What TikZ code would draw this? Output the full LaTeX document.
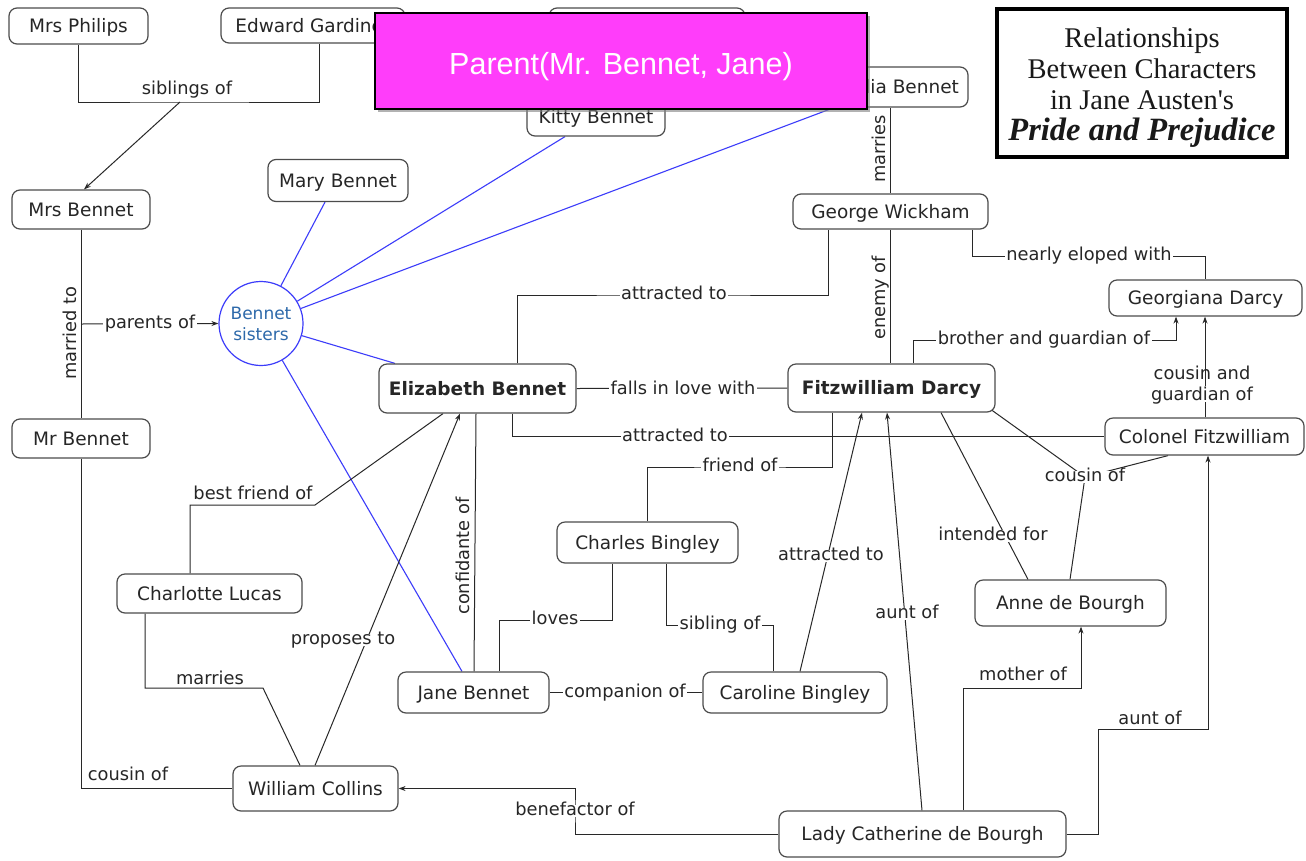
\documentclass[tikz,border=0pt]{standalone}
\usepackage{fontspec}
\setmainfont{DejaVu Sans}
\newfontfamily\titlefont{Liberation Serif}
\newfontfamily\magfont{Liberation Sans}
\usetikzlibrary{arrows.meta,calc,shadows}
\pgfdeclarelayer{paper}
\pgfdeclarelayer{bg}
\pgfdeclarelayer{fg}
\pgfsetlayers{paper,bg,main,fg}
\definecolor{edge}{RGB}{40,40,40}
\definecolor{bline}{RGB}{60,60,250}
\definecolor{btext}{RGB}{45,105,170}
\definecolor{mag}{RGB}{255,61,250}
\newcommand\fs{\fontsize{17.8}{21}\selectfont}
\newcommand\nfs{\fontsize{18.5}{22}\selectfont}
\begin{document}
\begin{tikzpicture}[x=1pt,y=-1pt,
 box/.style={draw=black!70, line width=1.2pt, rounded corners=8pt, fill=white, text=black!85, font=\nfs, inner sep=0pt, text height=13.5pt, text depth=0pt},
 lbl/.style={fill=white, inner sep=1.5pt, text=black!85, font=\fs, text height=9.7pt, text depth=0pt},
 plbl/.style={inner sep=1pt, text=black!85, font=\fs, text height=9.7pt, text depth=0pt},
 conn/.style={draw=edge, line width=1pt},
 arr/.style={conn, -{Stealth[length=7pt,width=5pt]}},
 sis/.style={draw=bline, line width=1.1pt}]
\begin{pgfonlayer}{paper}
\fill[white] (0,0) rectangle (1306,860);
\end{pgfonlayer}
\useasboundingbox (0,0) rectangle (1306,860);

% nodes
\node[box, minimum width=139pt, minimum height=36pt] (mphil) at (78.5,26) {Mrs Philips};
\node[box, minimum width=184pt, minimum height=35pt] (egard) at (313,25.5) {Edward Gardiner};
\node[box, minimum width=196pt, minimum height=36pt] (hidden) at (647,26) {};
\node[box, minimum width=138pt, minimum height=40pt] (lydia) at (899,87) {Lydia Bennet};
\node[box, minimum width=138pt, minimum height=39pt] (kitty) at (596,116.5) {Kitty Bennet};
\node[box, minimum width=140pt, minimum height=42pt] (mary) at (338,180.5) {Mary Bennet};
\node[box, minimum width=138pt, minimum height=39pt] (mben) at (81,209.5) {Mrs Bennet};
\node[box, minimum width=195pt, minimum height=35pt] (george) at (890.5,211.5) {George Wickham};
\node[box, minimum width=193pt, minimum height=36pt] (georgiana) at (1205.5,298) {Georgiana Darcy};
\node[circle, draw=bline, line width=1.2pt, fill=white, minimum size=84pt, inner sep=0pt, align=center, text=btext, font=\fontsize{17}{21}\selectfont] (sisters) at (261,323.5) {Bennet\\sisters};
\node[box, minimum width=197pt, minimum height=49pt, font=\nfs\bfseries] (eliz) at (477.5,388.5) {Elizabeth Bennet};
\node[box, minimum width=207pt, minimum height=48pt, font=\nfs\bfseries] (darcy) at (891.5,388) {Fitzwilliam Darcy};
\node[box, minimum width=138pt, minimum height=39pt] (mrben) at (81,438.5) {Mr Bennet};
\node[box, minimum width=199pt, minimum height=37pt] (colonel) at (1204.5,436.5) {Colonel Fitzwilliam};
\node[box, minimum width=181pt, minimum height=41pt] (charles) at (647.5,542.5) {Charles Bingley};
\node[box, minimum width=185pt, minimum height=39pt] (charlotte) at (209.5,593.5) {Charlotte Lucas};
\node[box, minimum width=191pt, minimum height=46pt] (anne) at (1070.5,603) {Anne de Bourgh};
\node[box, minimum width=151pt, minimum height=41pt] (jane) at (473.5,692.5) {Jane Bennet};
\node[box, minimum width=184pt, minimum height=41pt] (caroline) at (795,692.5) {Caroline Bingley};
\node[box, minimum width=165pt, minimum height=45pt] (collins) at (315.5,788.5) {William Collins};
\node[box, minimum width=287pt, minimum height=46pt] (lady) at (922.5,834) {Lady Catherine de Bourgh};

\node[draw=black, line width=4pt, minimum width=290pt, minimum height=148pt, inner sep=0pt, align=center, text=black!90, font=\titlefont\fontsize{28.5}{31}\selectfont] (title) at (1142,83)
 {\rule{0pt}{28.5pt}Relationships\\Between Characters\\in Jane Austen's\\{\bfseries\itshape\fontsize{32.5}{31}\selectfont Pride and Prejudice}};

% labels
\node[plbl] (lsib) at (187,90) {siblings of};
\node[plbl, rotate=90] (lmar) at (72,333) {married to};
\node[lbl] (lpar) at (150,324) {parents of};
\node[plbl] (lcou1) at (128,776) {cousin of};
\node[lbl] (lfall) at (683,390) {falls in love with};
\node[lbl] (latt1) at (674,295) {attracted to};
\node[plbl, rotate=90] (lmarr2) at (881,149) {marries};
\node[plbl, rotate=90] (lenemy) at (881,298) {enemy of};
\node[lbl] (lelope) at (1089,256) {nearly eloped with};
\node[lbl] (lbro) at (1044,340) {brother and guardian of};
\node[lbl, align=center, text height=13pt] (lcg) at (1202,394) {cousin and\\guardian of};
\node[lbl] (latt2) at (675,436.5) {attracted to};
\node[lbl] (lcou2) at (1085,477) {cousin of};
\node[lbl] (lint) at (993,536) {intended for};
\node[lbl] (lfriend) at (740,467) {friend of};
\node[lbl] (lloves) at (555,620) {loves};
\node[lbl] (lsibl) at (720,625) {sibling of};
\node[plbl, rotate=90] (lconf) at (465,556) {confidante of};
\node[lbl] (lcomp) at (625,692.5) {companion of};
\node[lbl] (latt3) at (831,556) {attracted to};
\node[lbl] (launt1) at (907,614) {aunt of};
\node[plbl] (lmother) at (1023,676) {mother of};
\node[plbl] (launt2) at (1150,720) {aunt of};
\node[lbl] (lbene) at (575,811) {benefactor of};
\node[plbl] (lbest) at (253,495) {best friend of};
\node[plbl] (lmarr3) at (210,680) {marries};
\node[lbl] (lprop) at (343,640) {proposes to};

\coordinate (sibc) at (180,102);
\coordinate (pj) at (81,324);
\coordinate (moc) at (1000,688);
\coordinate (auc) at (1098,729);
\coordinate (bfc) at (315,505);
\coordinate (mac) at (263,688);

\begin{pgfonlayer}{bg}
\draw[conn] (mphil.south) |- (sibc) -| (egard.south -| 319,0);
\draw[arr] (sibc) -- (mben.north -| 84,0);
\draw[conn] (mben.south) -- (mrben.north);
\draw[arr] (pj) -- (sisters.west);
\draw[conn] (mrben.south) |- (collins.west);
\draw[sis] (sisters) -- (mary.south -| 325,0);
\draw[sis] (sisters) -- (kitty.south -| 565,0);
\draw[sis] (sisters) -- (lydia.south -| 834,0);
\draw[sis] (sisters) -- (eliz.north -| 395,0);
\draw[sis] (sisters) -- (jane.north -| 462,0);
\draw[conn] (eliz.east) -- (darcy.west);
\draw[conn] (eliz.north -| 517,0) |- (latt1.center) -| (george.south -| 828,0);
\draw[conn] (lydia.south -| 890,0) -- (george.north -| 890,0);
\draw[conn] (george.south -| 890,0) -- (darcy.north -| 890,0);
\draw[conn] (george.south -| 972,0) |- (lelope.center) -| (georgiana.north);
\draw[arr] (darcy.north -| 913,0) |- (lbro.center) -| (georgiana.south -| 1176,0);
\draw[arr] (colonel.north -| 1205,0) -- (georgiana.south -| 1205,0);
\draw[conn] (eliz.south -| 512,0) |- (colonel.west);
\draw[conn] ($(darcy.south east)+(-6,-4)$) -- (lcou2.center);
\draw[conn] (colonel.south -| 1168,0) -- (lcou2.center);
\draw[conn] (lcou2.center) -- (anne.north -| 1070,0);
\draw[conn] (darcy.south -| 941,0) -- (anne.north -| 1028,0);
\draw[conn] (darcy.south -| 832,0) |- (lfriend.center) -| (charles.north);
\draw[conn] (charles.south -| 612,0) |- (lloves.center) -| (jane.north -| 499,0);
\draw[conn] (charles.south -| 666,0) |- (lsibl.center) -| (caroline.north -| 773,0);
\draw[conn] (eliz.south -| 476,0) -- (jane.north -| 474,0);
\draw[conn] (jane.east) -- (caroline.west);
\draw[arr] (caroline.north -| 800,0) -- (darcy.south -| 862,0);
\draw[arr] (lady.north -| 922,0) -- (darcy.south -| 887,0);
\draw[arr] (lady.north -| 963,0) |- (moc) -| (anne.south -| 1081,0);
\draw[arr] (lady.east) -| (auc) -| (colonel.south -| 1208,0);
\draw[arr] (lady.west) -| (lbene.center) |- (collins.east);
\draw[conn] (charlotte.north -| 190,0) |- (bfc) -- (eliz.south -| 443,0);
\draw[conn] (charlotte.south -| 145,0) |- (mac) -- (collins.north -| 300,0);
\draw[arr] (collins.north -| 315,0) -- (eliz.south -| 460,0);
\end{pgfonlayer}

\begin{pgfonlayer}{fg}
\node[draw=black, line width=2.5pt, fill=mag, drop shadow={shadow xshift=3pt, shadow yshift=-3pt, opacity=0.6}, minimum width=492pt, minimum height=96pt, inner sep=0pt, text=white, text height=26pt, text depth=0pt, font=\magfont\fontsize{30.5}{34}\selectfont] (hl) at (621,61) {Parent(Mr. Bennet, Jane)};
\end{pgfonlayer}
\end{tikzpicture}
\end{document}
